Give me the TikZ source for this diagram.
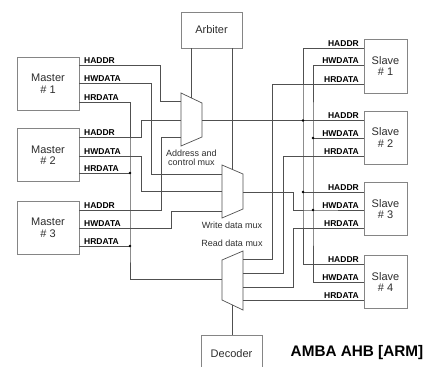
\documentclass[tikz,border=0pt]{standalone}
\usepackage{fontspec}
\setmainfont{Liberation Sans}
\usetikzlibrary{calc}

\definecolor{wirec}{HTML}{505050}
\definecolor{framec}{HTML}{858585}
\definecolor{textc}{HTML}{2E2E2E}

\begin{document}
\begin{tikzpicture}[x=1pt,y=-1pt,
  wire/.style={draw=wirec, line width=0.7pt},
  unit/.style={draw=framec, line width=0.8pt, fill=white, align=center,
    inner sep=0pt, text=textc, font=\fontsize{11}{11.5}\selectfont},
  sig/.style={inner sep=0pt, text=black, font=\bfseries\fontsize{8.5}{9}\selectfont},
  note/.style={inner sep=0pt, align=center, text=textc, font=\fontsize{9}{9}\selectfont},
  junction/.style={circle, fill=black, inner sep=0pt, minimum size=2.6pt},
  muxshape/.style={draw=wirec, line width=0.7pt, fill=white}]
\useasboundingbox (0,0) rectangle (426,367);

% ---- functional units ----
\node[unit, minimum width=62pt, minimum height=53pt] (m1) at (48,83.5) {Master\\\# 1};
\node[unit, minimum width=62pt, minimum height=53pt] (m2) at (48,155) {Master\\\# 2};
\node[unit, minimum width=62pt, minimum height=53pt] (m3) at (48,228) {Master\\\# 3};

\node[unit, minimum width=43pt, minimum height=54pt] (s1) at (385.5,66) {Slave\\\# 1};
\node[unit, minimum width=43pt, minimum height=53pt] (s2) at (385.5,137.5) {Slave\\\# 2};
\node[unit, minimum width=43pt, minimum height=53pt] (s3) at (385.5,209) {Slave\\\# 3};
\node[unit, minimum width=43pt, minimum height=53pt] (s4) at (385.5,282) {Slave\\\# 4};

\node[unit, minimum width=61pt, minimum height=36pt] (arb) at (211.5,30) {Arbiter};
\node[unit, minimum width=61pt, minimum height=38pt] (dec) at (231.5,354) {Decoder};

% ---- multiplexers ----
% address and control mux
\coordinate (aTL) at (181,93);  \coordinate (aTR) at (202,103);
\coordinate (aBR) at (202,137); \coordinate (aBL) at (181,146);
\draw[muxshape] (aTL) -- (aTR) -- (aBR) -- (aBL) -- cycle;
\coordinate (aIn1) at (aTL |- 0,101);
\coordinate (aIn2) at (aTL |- 0,120.5);
\coordinate (aIn3) at (aTL |- 0,137);
\coordinate (aOut) at (aTR |- 0,120.5);
\coordinate (aCtl) at ($(aTL)!0.476!(aTR)$);

% write data mux
\coordinate (wTL) at (222,165); \coordinate (wTR) at (243,174);
\coordinate (wBR) at (243,209); \coordinate (wBL) at (222,218);
\draw[muxshape] (wTL) -- (wTR) -- (wBR) -- (wBL) -- cycle;
\coordinate (wIn1) at (wTL |- 0,174);
\coordinate (wIn2) at (wTL |- 0,191);
\coordinate (wIn3) at (wTL |- 0,211);
\coordinate (wOut) at (wTR |- 0,192);
\coordinate (wCtl) at ($(wTL)!0.476!(wTR)$);

% read data mux
\coordinate (rTL) at (222,260); \coordinate (rTR) at (243,251);
\coordinate (rBR) at (243,310); \coordinate (rBL) at (222,300);
\draw[muxshape] (rTL) -- (rTR) -- (rBR) -- (rBL) -- cycle;
\coordinate (rIn1) at (rTR |- 0,259);
\coordinate (rIn2) at (rTR |- 0,273);
\coordinate (rIn3) at (rTR |- 0,287);
\coordinate (rIn4) at (rTR |- 0,300);
\coordinate (rOut) at (rTL |- 0,279);
\coordinate (rCtl) at ($(rBL)!0.476!(rBR)$);

\node[note] (amuxlbl) at (191.5,157.5) {Address and\\control mux};
\node[note] (wmuxlbl) at (232,225) {Write data mux};
\node[note] (rmuxlbl) at (232,243) {Read data mux};

% ---- arbiter and decoder controls ----
\draw[wire] (arb.south -| aCtl) -- (aCtl);
\draw[wire] (arb.south -| wCtl) -- (wCtl);
\draw[wire] (dec.north -| rCtl) -- (rCtl);

% ---- master address lines ----
\draw[wire] (m1.east |- 0,65)  -| (160,101)   -- (aIn1);
\draw[wire] (m2.east |- 0,137) -| (141,120.5) -- (aIn2);
\draw[wire] (m3.east |- 0,210) -| (161,137)   -- (aIn3);

% ---- master write data lines ----
\draw[wire] (m1.east |- 0,83)  -| (151,174) -- (wIn1);
\draw[wire] (m2.east |- 0,156) -| (141,191) -- (wIn2);
\draw[wire] (m3.east |- 0,228) -| (171,211) -- (wIn3);

% ---- read data return to masters ----
\coordinate (jm2) at (130,173);
\coordinate (jm3) at (130,246);
\draw[wire] (m1.east |- 0,102) -| (jm2) -- (jm3) |- (rOut);
\draw[wire] (m2.east |- jm2) -- (jm2);
\draw[wire] (m3.east |- jm3) -- (jm3);
\node[junction] (dm2) at (jm2) {};
\node[junction] (dm3) at (jm3) {};

% ---- address bus to slaves ----
\coordinate (ja2) at (303,120.5);
\coordinate (ja3) at (303,192);
\draw[wire] (s1.west |- 0,48) -| (ja2) -- (ja3) |- (s4.west |- 0,264);
\draw[wire] (aOut) -- (ja2) -- (s2.west |- ja2);
\draw[wire] (ja3) -- (s3.west |- ja3);
\node[junction] (da2) at (ja2) {};
\node[junction] (da3) at (ja3) {};

% ---- write data bus to slaves ----
\coordinate (jw2) at (313,138);
\coordinate (jw3) at (313,210);
\draw[wire] (s1.west |- 0,65) -| (jw2) -- (jw3) |- (s4.west |- 0,282);
\draw[wire] (jw2) -- (s2.west |- jw2);
\draw[wire] (wOut) -| (293,210) -- (jw3) -- (s3.west |- jw3);
\node[junction] (dw2) at (jw2) {};
\node[junction] (dw3) at (jw3) {};

% ---- slave read data into the read mux ----
\draw[wire] (s1.west |- 0,84)  -| (272,259) -- (rIn1);
\draw[wire] (s2.west |- 0,156) -| (283,273) -- (rIn2);
\draw[wire] (s3.west |- 0,228) -| (293,287) -- (rIn3);
\draw[wire] (s4.west |- 0,300) -- (rIn4);

% ---- signal names at the masters ----
\node[sig, anchor=base west] (m1a) at (84,63)  {HADDR};
\node[sig, anchor=base west] (m1w) at (84,81)  {HWDATA};
\node[sig, anchor=base west] (m1r) at (84,100) {HRDATA};
\node[sig, anchor=base west] (m2a) at (84,135) {HADDR};
\node[sig, anchor=base west] (m2w) at (84,154) {HWDATA};
\node[sig, anchor=base west] (m2r) at (84,171) {HRDATA};
\node[sig, anchor=base west] (m3a) at (84,208) {HADDR};
\node[sig, anchor=base west] (m3w) at (84,226) {HWDATA};
\node[sig, anchor=base west] (m3r) at (84,244) {HRDATA};

% ---- signal names at the slaves ----
\node[sig, anchor=base east] (s1a) at (359,46)  {HADDR};
\node[sig, anchor=base east] (s1w) at (359,63)  {HWDATA};
\node[sig, anchor=base east] (s1r) at (359,82)  {HRDATA};
\node[sig, anchor=base east] (s2a) at (359,118) {HADDR};
\node[sig, anchor=base east] (s2w) at (359,136) {HWDATA};
\node[sig, anchor=base east] (s2r) at (359,154) {HRDATA};
\node[sig, anchor=base east] (s3a) at (359,190) {HADDR};
\node[sig, anchor=base east] (s3w) at (359,208) {HWDATA};
\node[sig, anchor=base east] (s3r) at (359,226) {HRDATA};
\node[sig, anchor=base east] (s4a) at (359,262) {HADDR};
\node[sig, anchor=base east] (s4w) at (359,280) {HWDATA};
\node[sig, anchor=base east] (s4r) at (359,298) {HRDATA};

% ---- title ----
\node[inner sep=0pt, text=black, font=\bfseries\fontsize{15.3}{16}\selectfont] (title) at (357,353) {AMBA AHB [ARM]};
\end{tikzpicture}
\end{document}
